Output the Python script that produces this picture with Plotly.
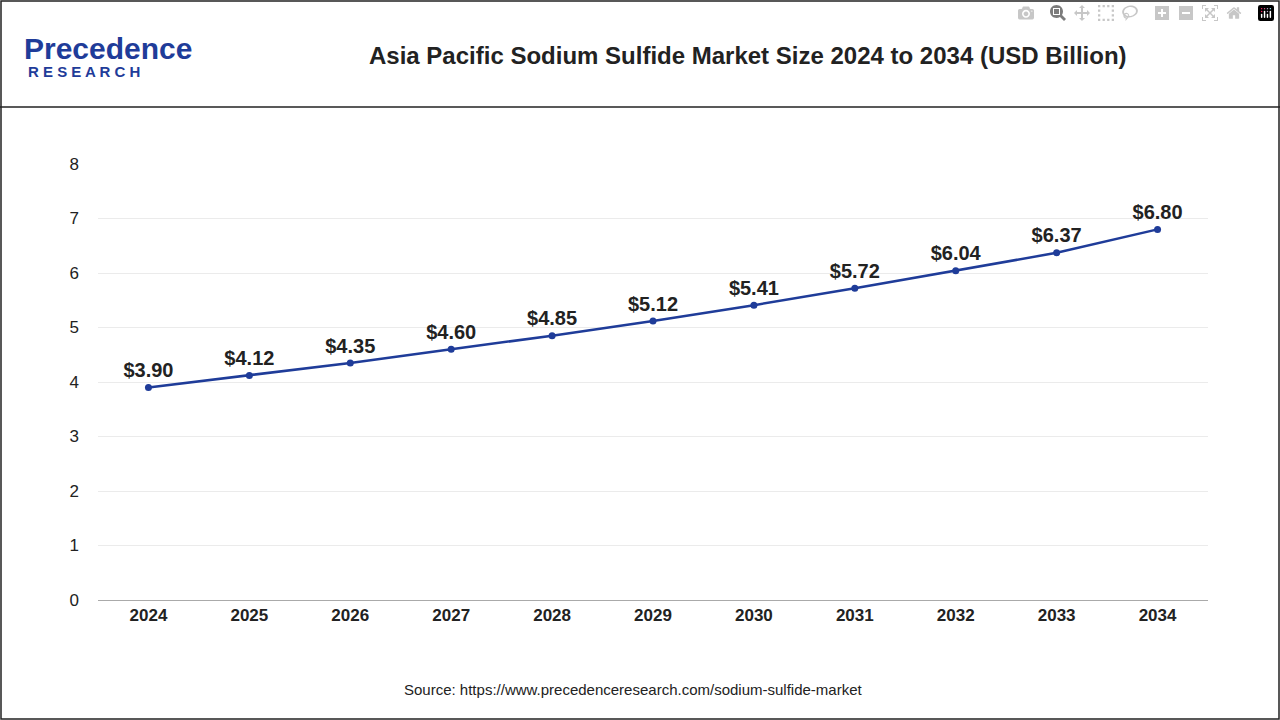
import plotly.graph_objects as go

years = ["2024", "2025", "2026", "2027", "2028", "2029", "2030", "2031", "2032", "2033", "2034"]
market_size = [3.90, 4.12, 4.35, 4.60, 4.85, 5.12, 5.41, 5.72, 6.04, 6.37, 6.80]
y_ticks = [0, 1, 2, 3, 4, 5, 6, 7, 8]

W, H = 1280, 720
fig = go.Figure()
fig.add_trace(go.Scatter(
    x=years, y=market_size, mode="lines+markers+text",
    line=dict(color="#1f3c99", width=2.5),
    marker=dict(color="#1f3c99", size=7),
    text=["<b>$%.2f</b>" % v for v in market_size],
    textposition="top center",
    textfont=dict(family="Arial", size=20, color="#222222"),
    cliponaxis=False, hoverinfo="skip",
))

fig.update_layout(
    width=W, height=H,
    margin=dict(l=98, r=72, t=164, b=120),
    paper_bgcolor="white", plot_bgcolor="white",
    showlegend=False,
    xaxis=dict(type="category", range=[-0.5, 10.5], showgrid=False,
               showline=True, linecolor="#aaaaaa", linewidth=1, ticks="",
               tickprefix="<b>", ticksuffix="</b>",
               tickfont=dict(family="Arial", size=17, color="#222222")),
    yaxis=dict(range=[0, 8], tickvals=y_ticks, showgrid=True, gridcolor="#ebebeb",
               zeroline=False, ticks="", ticklabelstandoff=18,
               tickprefix="<b>", ticksuffix="</b>",
               tickfont=dict(family="Arial", size=17, color="#222222")),
    shapes=[
        dict(type="line", xref="paper", yref="paper",
             x0=-98 / 1110, x1=1 + 72 / 1110, y0=1 + 57 / 436, y1=1 + 57 / 436,
             line=dict(color="#222222", width=1.5)),
        dict(type="rect", xref="paper", yref="paper",
             x0=-97 / 1110, x1=1 + 71 / 1110, y0=-119 / 436, y1=1 + 163 / 436,
             line=dict(color="#222222", width=1.5)),
    ],
    annotations=[
        dict(text="<b>Asia Pacific Sodium Sulfide Market Size 2024 to 2034 (USD Billion)</b>",
             xref="paper", yref="paper", x=(748 - 98) / 1110, y=1 + (164 - 55) / 436,
             showarrow=False, xanchor="center", yanchor="middle",
             font=dict(family="Arial", size=24, color="#222222")),
        dict(text="<b>Precedence</b>", xref="paper", yref="paper",
             x=(22 - 98) / 1110, y=1 + (164 - 48) / 436, xanchor="left", yanchor="middle",
             showarrow=False, font=dict(family="Arial", size=30, color="#1f3c99")),
        dict(text="<b>R E S E A R C H</b>", xref="paper", yref="paper",
             x=(26 - 98) / 1110, y=1 + (164 - 72) / 436, xanchor="left", yanchor="middle",
             showarrow=False, font=dict(family="Arial", size=15, color="#1f3c99")),
        dict(text="Source: https://www.precedenceresearch.com/sodium-sulfide-market",
             xref="paper", yref="paper", x=(633 - 98) / 1110, y=-(689 - 600) / 436,
             xanchor="center", yanchor="middle", showarrow=False,
             font=dict(family="Arial", size=15, color="#222222")),
    ],
)

fig.write_html("out.html", post_script="document.body.style.margin='0';")
